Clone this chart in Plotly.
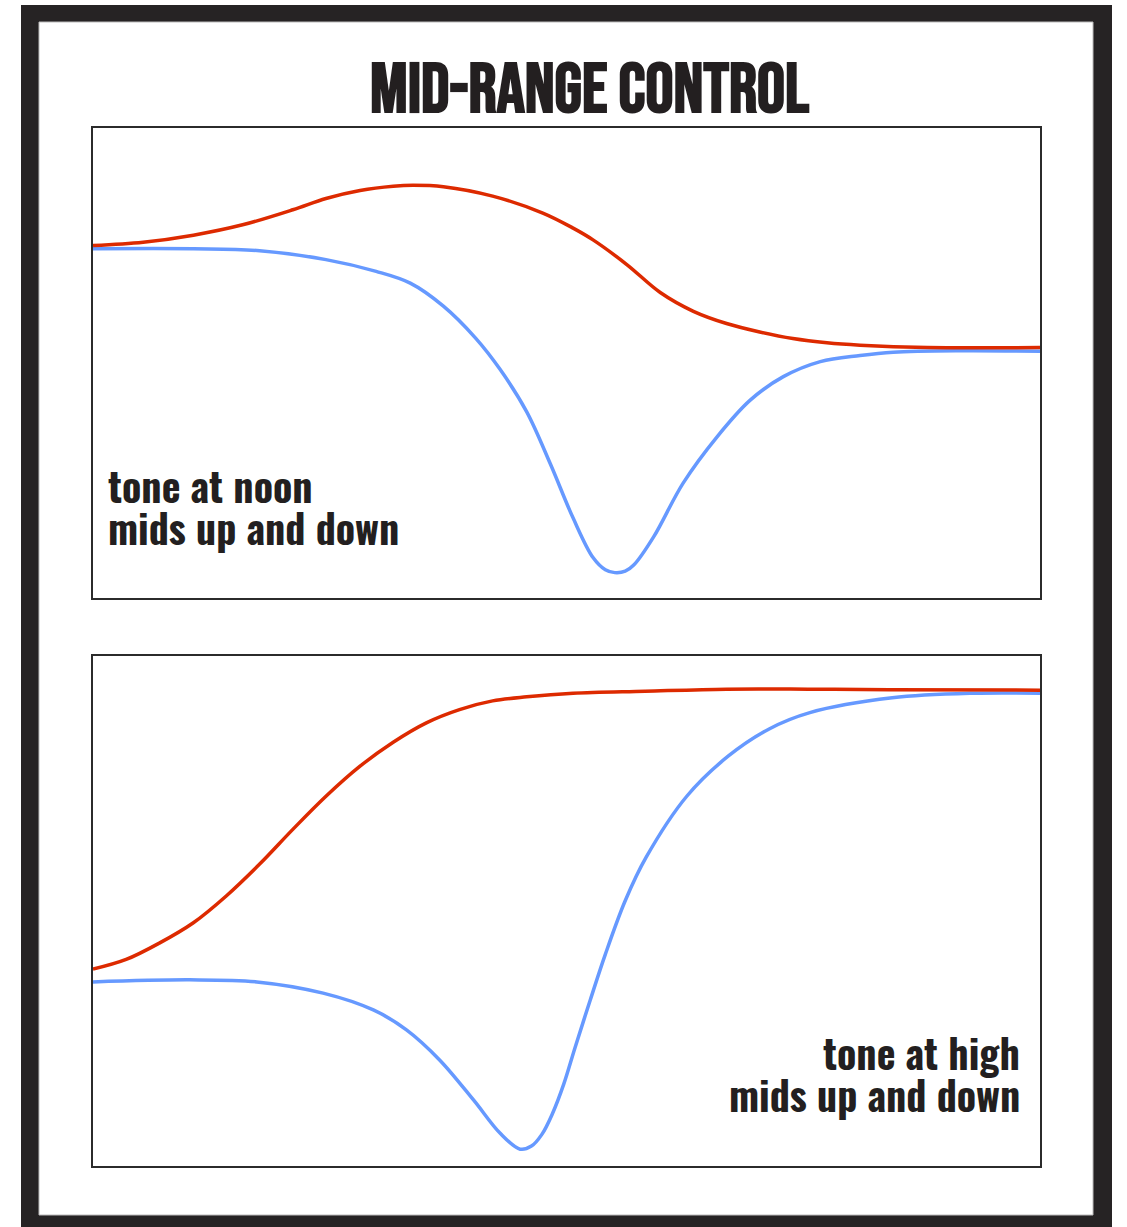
import plotly.graph_objects as go

# ---- data (x: % of sweep across panel, y: relative response level) ----
top_red_x = [0, 5.3, 10.6, 15.8, 21.1, 24.6, 28.2, 31.7, 33.8, 37.0, 42.2, 47.5, 50.7, 52.8, 56.4,
             59.9, 63.4, 66.9, 70.4, 73.9, 77.5, 81.0, 88.1, 100]
top_red_y = [75.0, 75.7, 77.2, 79.4, 82.6, 85.0, 86.7, 87.6, 87.8, 87.5, 85.5, 81.9, 78.7, 76.2, 70.9,
             65.0, 61.0, 58.4, 56.6, 55.2, 54.3, 53.8, 53.3, 53.3]

top_blue_x = [0, 10.6, 17.6, 24.6, 29.9, 33.5, 37.0, 40.4, 43.0, 45.8, 48.3, 50.7, 52.8, 54.1, 55.1,
              56.2, 57.1, 59.2, 62.3, 65.9, 69.4, 72.9, 76.8, 81.0, 84.5, 91.6, 100]
top_blue_y = [74.3, 74.3, 73.9, 72.0, 69.5, 67.0, 62.1, 55.3, 48.6, 39.6, 28.5, 17.0, 8.6, 6.0, 5.4,
              5.7, 7.0, 13.0, 24.4, 34.3, 42.1, 47.1, 50.3, 51.6, 52.3, 52.6, 52.5]

bot_red_x = [0, 3.5, 7.0, 10.6, 14.1, 17.6, 21.1, 24.6, 28.2, 31.7, 35.2, 38.7, 42.2, 45.8, 50.7,
             58.3, 66.9, 75.5, 84.1, 100]
bot_red_y = [38.6, 40.5, 43.7, 47.7, 53.0, 59.2, 66.0, 72.5, 78.4, 83.1, 86.9, 89.5, 91.2, 92.0, 92.7,
             93.1, 93.5, 93.5, 93.4, 93.3]

bot_blue_x = [0, 10.2, 17.3, 24.3, 29.6, 33.1, 36.6, 40.2, 43.0, 45.1, 46.3, 47.4, 48.5, 49.7, 50.9,
              52.5, 54.1, 56.2, 58.4, 62.7, 67.1, 71.4, 75.7, 84.4, 93.0, 100]
bot_blue_y = [36.1, 36.5, 36.1, 33.9, 30.6, 26.7, 20.8, 12.9, 6.4, 3.3, 3.9, 6.2, 10.2, 16.0, 23.2,
              32.5, 41.5, 52.0, 60.5, 72.5, 80.4, 85.7, 88.9, 91.8, 92.7, 92.7]

title_text = "MID-RANGE CONTROL"
top_label = ["tone at noon", "mids up and down"]
bot_label = ["tone at high", "mids up and down"]

RED = "#dd2a00"
BLUE = "#6699ff"
INK = "#231f20"
TITLE_FONT = "Bebas Neue, Oswald, Roboto Condensed, sans-serif"
LABEL_FONT = "Oswald, Roboto Condensed, Open Sans Condensed, sans-serif"

W, H = 1127, 1227
def px(x):
    return x / W
def py(y):
    return 1 - y / H

fig = go.Figure()
for xs, ys, col, xa, ya in [
    (top_blue_x, top_blue_y, BLUE, "x", "y"),
    (top_red_x, top_red_y, RED, "x", "y"),
    (bot_blue_x, bot_blue_y, BLUE, "x2", "y2"),
    (bot_red_x, bot_red_y, RED, "x2", "y2"),
]:
    fig.add_trace(go.Scatter(x=xs, y=ys, mode="lines", line=dict(color=col, width=3.5, shape="spline"),
                             xaxis=xa, yaxis=ya, hoverinfo="skip"))

ax = dict(showgrid=False, zeroline=False, showticklabels=False, ticks="", showline=True, mirror=True,
          linecolor="#2b2b2b", linewidth=2, range=[0, 100], fixedrange=True)

fig.update_layout(
    width=W, height=H,
    margin=dict(l=0, r=0, t=0, b=0),
    paper_bgcolor="white", plot_bgcolor="white",
    showlegend=False,
    xaxis=dict(ax, domain=[px(93), px(1040)], anchor="y"),
    yaxis=dict(ax, domain=[py(598), py(128)], anchor="x"),
    xaxis2=dict(ax, domain=[px(93), px(1040)], anchor="y2"),
    yaxis2=dict(ax, domain=[py(1166), py(656)], anchor="x2"),
    shapes=[
        dict(type="rect", xref="paper", yref="paper", x0=px(21), x1=px(1112), y0=-0.01, y1=py(5),
             fillcolor="#262324", line=dict(width=0), layer="below"),
        dict(type="rect", xref="paper", yref="paper", x0=px(39), x1=px(1093), y0=py(1215), y1=py(22),
             fillcolor="white", line=dict(color="#bbbbbb", width=1), layer="below"),
    ],
)

annos = [
    dict(text=f"<b>{title_text}</b>", x=px(590), y=py(91), xanchor="center", yanchor="middle",
         font=dict(family=TITLE_FONT, size=70, color=INK)),
    dict(text=f"<b>{top_label[0]}</b>", x=px(106), y=py(485), xanchor="left", yanchor="middle",
         font=dict(family=LABEL_FONT, size=40, color=INK)),
    dict(text=f"<b>{top_label[1]}</b>", x=px(106), y=py(527), xanchor="left", yanchor="middle",
         font=dict(family=LABEL_FONT, size=40, color=INK)),
    dict(text=f"<b>{bot_label[0]}</b>", x=px(1022), y=py(1052), xanchor="right", yanchor="middle",
         font=dict(family=LABEL_FONT, size=40, color=INK)),
    dict(text=f"<b>{bot_label[1]}</b>", x=px(1022), y=py(1094), xanchor="right", yanchor="middle",
         font=dict(family=LABEL_FONT, size=40, color=INK)),
]
for a in annos:
    fig.add_annotation(xref="paper", yref="paper", showarrow=False, **a)

fig.write_html("out.html", config={"displayModeBar": False},
               post_script="document.body.style.margin='0';")
